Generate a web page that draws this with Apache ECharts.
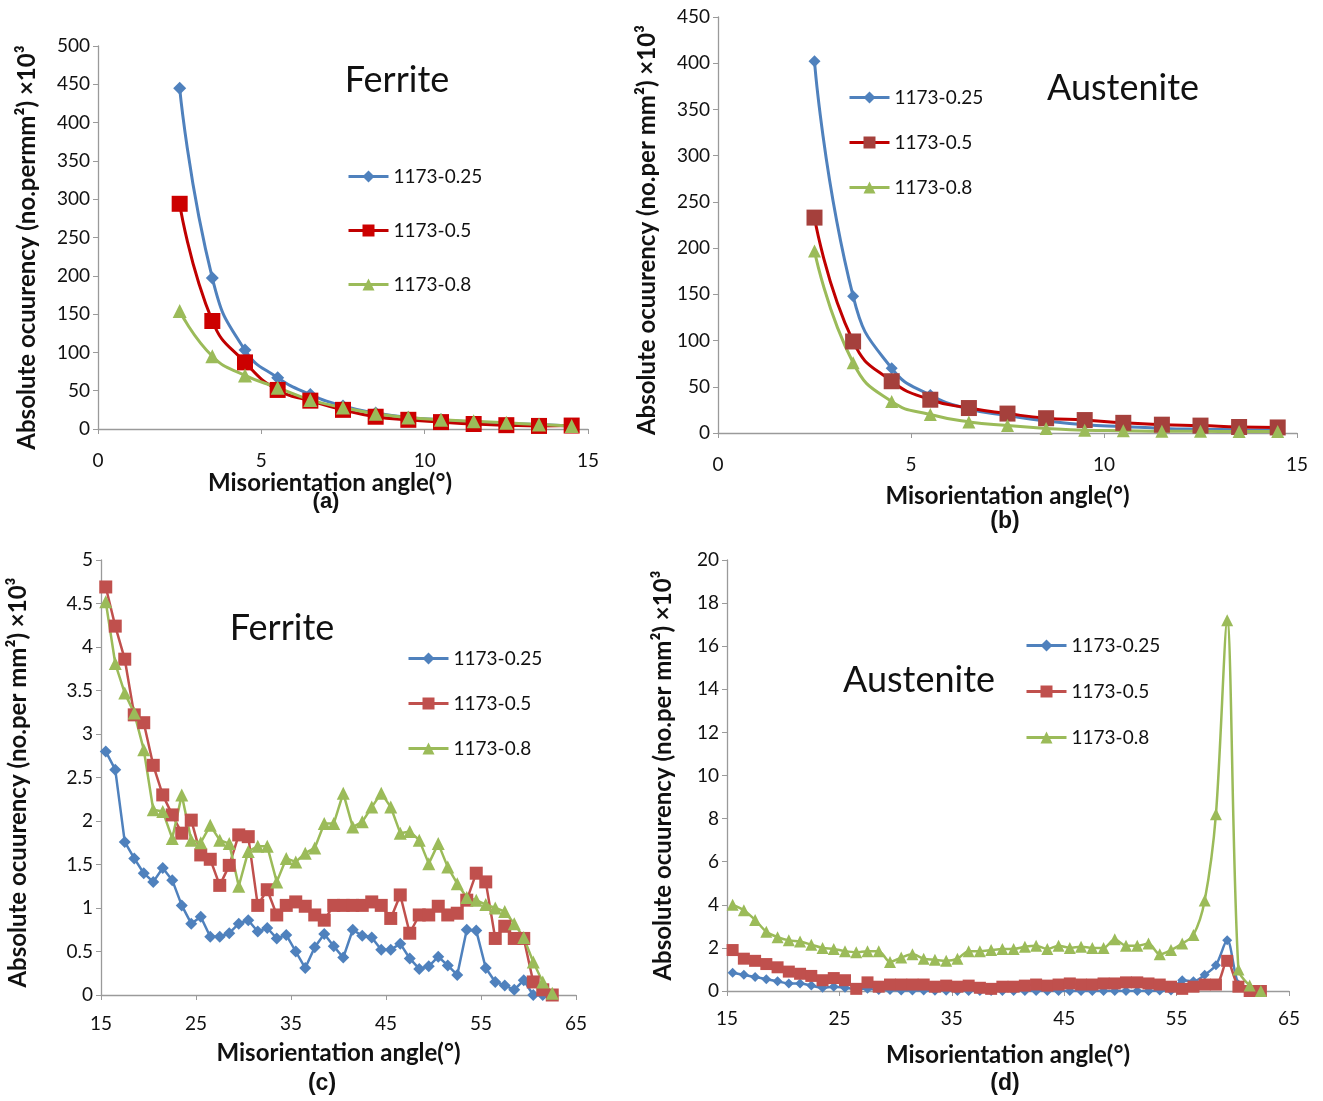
<!DOCTYPE html>
<html><head><meta charset="utf-8">
<script src="https://cdn.jsdelivr.net/npm/echarts@6/dist/echarts.min.js"></script>
<style>html,body{margin:0;padding:0;background:#fff}#chart{width:1323px;height:1101px}</style>
</head><body><div id="chart"></div>
<script>
// ---------- DATA ----------
const anglesLow = [2.5, 3.5, 4.5, 5.5, 6.5, 7.5, 8.5, 9.5, 10.5, 11.5, 12.5, 13.5, 14.5];
const anglesHigh = [15.5, 16.5, 17.5, 18.5, 19.5, 20.5, 21.5, 22.5, 23.5, 24.5, 25.5, 26.5,
  27.5, 28.5, 29.5, 30.5, 31.5, 32.5, 33.5, 34.5, 35.5, 36.5, 37.5, 38.5, 39.5, 40.5, 41.5,
  42.5, 43.5, 44.5, 45.5, 46.5, 47.5, 48.5, 49.5, 50.5, 51.5, 52.5, 53.5, 54.5, 55.5, 56.5,
  57.5, 58.5, 59.5, 60.5, 61.5, 62.5];
const seriesNames = ['1173-0.25', '1173-0.5', '1173-0.8'];

// (a) Ferrite, low angle
const aFer025 = [445, 197, 103, 67, 45, 30, 21, 15, 12, 9, 7, 6, 4];
const aFer05  = [294, 141, 87, 51, 37, 25, 16, 12, 9, 6.5, 5, 4, 4.5];
const aFer08  = [154, 95, 70, 54, 38, 28, 20, 15, 12, 10, 8, 6, 4];
// (b) Austenite, low angle
const bAus025 = [402, 148, 70, 41, 26, 19, 13, 9, 7, 5, 4, 3.5, 3];
const bAus05  = [233, 99, 56, 36, 27, 21, 16, 14, 11, 9, 8, 6.5, 6];
const bAus08  = [197, 76, 34, 20, 12, 8, 5, 3, 2.5, 2, 2, 1.5, 1.5];
// (c) Ferrite, high angle
const cFer025 = [2.80, 2.59, 1.76, 1.57, 1.40, 1.30, 1.46, 1.32, 1.03, 0.82, 0.90, 0.67,
  0.67, 0.71, 0.82, 0.86, 0.73, 0.77, 0.65, 0.69, 0.50, 0.31, 0.55, 0.70, 0.56, 0.43, 0.75,
  0.68, 0.66, 0.52, 0.52, 0.59, 0.42, 0.30, 0.33, 0.44, 0.34, 0.23, 0.75, 0.74, 0.31, 0.15,
  0.11, 0.06, 0.17, 0.00, 0.00, 0.00];
const cFer05 = [4.69, 4.24, 3.86, 3.22, 3.13, 2.64, 2.30, 2.07, 1.86, 2.01, 1.61, 1.56,
  1.26, 1.49, 1.84, 1.82, 1.03, 1.21, 0.92, 1.03, 1.07, 1.02, 0.92, 0.86, 1.03, 1.03, 1.03,
  1.03, 1.07, 1.03, 0.88, 1.15, 0.71, 0.92, 0.92, 1.02, 0.92, 0.94, 1.09, 1.40, 1.30, 0.65,
  0.79, 0.65, 0.65, 0.15, 0.06, 0.00];
const cFer08 = [4.52, 3.81, 3.47, 3.24, 2.82, 2.13, 2.11, 1.80, 2.30, 1.78, 1.75, 1.95,
  1.78, 1.74, 1.25, 1.65, 1.71, 1.71, 1.30, 1.57, 1.53, 1.63, 1.69, 1.97, 1.97, 2.32, 1.93,
  1.99, 2.16, 2.32, 2.16, 1.86, 1.88, 1.78, 1.51, 1.74, 1.47, 1.28, 1.12, 1.09, 1.04, 1.00,
  0.96, 0.82, 0.66, 0.38, 0.15, 0.02];
// (d) Austenite, high angle
const dAus025 = [0.85, 0.75, 0.65, 0.55, 0.45, 0.35, 0.35, 0.25, 0.15, 0.2, 0.15, 0.1,
  0.1, 0.05, 0.05, 0.02, 0.02, 0.02, 0.01, 0.01, 0, 0, 0, 0, 0, 0, 0,
  0, 0, 0, 0, 0, 0, 0, 0, 0, 0, 0, 0.02, 0.02, 0.5, 0.45,
  0.75, 1.2, 2.35, 0.3, 0.05, 0];
const dAus05 = [1.9, 1.5, 1.4, 1.25, 1.1, 0.9, 0.8, 0.7, 0.5, 0.6, 0.5, 0.1,
  0.4, 0.2, 0.3, 0.3, 0.3, 0.3, 0.2, 0.25, 0.2, 0.25, 0.15, 0.1, 0.2, 0.2, 0.25,
  0.3, 0.25, 0.3, 0.35, 0.3, 0.3, 0.35, 0.35, 0.4, 0.4, 0.35, 0.3, 0.2, 0.1, 0.2,
  0.3, 0.3, 1.4, 0.2, 0, 0];
const dAus08 = [4.0, 3.75, 3.3, 2.75, 2.5, 2.35, 2.3, 2.15, 2.0, 1.95, 1.85, 1.8,
  1.85, 1.85, 1.35, 1.55, 1.7, 1.5, 1.45, 1.4, 1.5, 1.85, 1.85, 1.9, 1.95, 1.95, 2.05,
  2.1, 1.95, 2.1, 2.0, 2.05, 2.0, 2.0, 2.4, 2.1, 2.1, 2.2, 1.7, 1.9, 2.2, 2.6,
  4.2, 8.2, 17.2, 1.0, 0.25, 0];

// ---------- CHART ----------
const BLUE = '#4F81BD', RED = '#C0504D', GREEN = '#9BBB59';
const FONT = 'Lato';
const pair = (xs, ys) => xs.map((x, i) => [x, ys[i]]);
const chart = echarts.init(document.getElementById('chart'));

const axisCommon = {
  axisLine: { show: true, lineStyle: { color: '#9A9A9A', width: 1.3 } },
  axisTick: { show: true, inside: false, length: 5, lineStyle: { color: '#9A9A9A' } },
  splitLine: { show: false },
  nameLocation: 'middle'
};
const nameStyle = (pad) => ({ color: '#111', fontSize: 24, fontWeight: 'bold', fontFamily: FONT, padding: pad });
const xName = 'Misorientation angle(°)';
function xAx(i, min, max, interval, gap, margin, pad) {
  return Object.assign({}, axisCommon, {
    type: 'value', gridIndex: i, min, max, interval, name: xName, nameGap: gap,
    nameTextStyle: nameStyle(pad),
    axisLabel: { color: '#111', fontSize: 19, fontFamily: FONT, margin }
  });
}
function yAx(i, max, interval, name, gap, pad) {
  return Object.assign({}, axisCommon, {
    type: 'value', gridIndex: i, min: 0, max, interval, name, nameGap: gap,
    nameTextStyle: nameStyle(pad),
    axisLabel: { color: '#111', fontSize: 19, fontFamily: FONT, margin: 8 }
  });
}

function mk(name, xi, xs, ys, color, symbol, size, smooth, lineColor, width) {
  return {
    name, type: 'line', xAxisIndex: xi, yAxisIndex: xi, data: pair(xs, ys),
    symbol, symbolSize: size, smooth, showAllSymbol: true,
    lineStyle: { color: lineColor || color, width: width || 2.5 },
    itemStyle: { color, borderWidth: 0 },
    emphasis: { disabled: true }, z: 3
  };
}

function legend(left, top, gap, colors, lineColors) {
  return {
    orient: 'vertical', left, top, padding: 0, itemGap: gap, itemWidth: 40, itemHeight: 15,
    textStyle: { color: '#111', fontSize: 19, fontFamily: FONT },
    selectedMode: false,
    data: seriesNames.map((n, k) => ({ name: n, itemStyle: { color: colors[k] }, lineStyle: { color: lineColors[k], width: 3 } }))
  };
}

function txt(text, x, y, size, weight, family) {
  return { type: 'text', x, y, style: { text, fill: '#111', font: (weight || 'normal') + ' ' + size + 'px ' + (family || FONT), textAlign: 'center', textVerticalAlign: 'middle' } };
}

const option = {
  animation: false,
  backgroundColor: '#fff',
  grid: [
    { left: 98, top: 46, width: 490, height: 383 },
    { left: 718, top: 17, width: 579, height: 416 },
    { left: 101, top: 560, width: 475, height: 435 },
    { left: 727, top: 560, width: 562, height: 431 }
  ],
  xAxis: [
    xAx(0, 0, 15, 5, 38, 22, [0, 26, 0, 0]),
    xAx(1, 0, 15, 5, 51, 22, 0),
    xAx(2, 15, 65, 10, 46, 19, 0),
    xAx(3, 15, 65, 10, 52, 18, 0)
  ],
  yAxis: [
    yAx(0, 500, 50, 'Absolute ocuurency (no.permm²) ×10³', 59, [0, 20, 0, 0]),
    yAx(1, 450, 50, 'Absolute ocuurency (no.per mm²) ×10³', 59, [0, 10, 0, 0]),
    yAx(2, 5, 0.5, 'Absolute ocuurency (no.per mm²) ×10³', 71, [0, 10, 0, 0]),
    yAx(3, 20, 2, 'Absolute ocuurency (no.per mm²) ×10³', 52, 0)
  ],
  legend: [
    legend(347, 167, 35, [BLUE, '#CC0000', GREEN], [BLUE, '#C00000', GREEN]),
    legend(848, 88, 26, [BLUE, '#A5403C', GREEN], [BLUE, '#C00000', GREEN]),
    legend(407, 649, 26, [BLUE, RED, GREEN], [BLUE, RED, GREEN]),
    legend(1025, 636, 27, [BLUE, RED, GREEN], [BLUE, RED, GREEN])
  ],
  graphic: [
    txt('Ferrite', 397, 80, 36),
    txt('Austenite', 1123, 88, 36),
    txt('Ferrite', 282, 628, 36),
    txt('Austenite', 919, 680, 36),
    txt('(a)', 326, 502, 22, 'bold', 'Liberation Sans'),
    txt('(b)', 1005, 522, 23, 'bold', 'Liberation Sans'),
    txt('(c)', 322, 1084, 23, 'bold', 'Liberation Sans'),
    txt('(d)', 1005, 1084, 23, 'bold', 'Liberation Sans')
  ],
  series: [
    mk(seriesNames[0], 0, anglesLow, aFer025, BLUE, 'diamond', 13, true, BLUE, 3),
    mk(seriesNames[1], 0, anglesLow, aFer05, '#CC0000', 'rect', 16, true, '#C00000', 3),
    mk(seriesNames[2], 0, anglesLow, aFer08, GREEN, 'triangle', 14, true, GREEN, 3),
    mk(seriesNames[0], 1, anglesLow, bAus025, BLUE, 'diamond', 12, true, BLUE, 3),
    mk(seriesNames[1], 1, anglesLow, bAus05, '#A5403C', 'rect', 16, true, '#C00000', 3),
    mk(seriesNames[2], 1, anglesLow, bAus08, GREEN, 'triangle', 13, true, GREEN, 3),
    mk(seriesNames[0], 2, anglesHigh, cFer025, BLUE, 'diamond', 12, false, BLUE, 2.5),
    mk(seriesNames[1], 2, anglesHigh, cFer05, RED, 'rect', 13, false, RED, 2.5),
    mk(seriesNames[2], 2, anglesHigh, cFer08, GREEN, 'triangle', 13, false, GREEN, 2.5),
    mk(seriesNames[0], 3, anglesHigh, dAus025, BLUE, 'diamond', 10, 0.3, BLUE, 2.5),
    mk(seriesNames[1], 3, anglesHigh, dAus05, RED, 'rect', 12, 0.3, RED, 2.5),
    mk(seriesNames[2], 3, anglesHigh, dAus08, GREEN, 'triangle', 12, 0.3, GREEN, 2.5)
  ]
};
chart.setOption(option);
</script></body></html>
